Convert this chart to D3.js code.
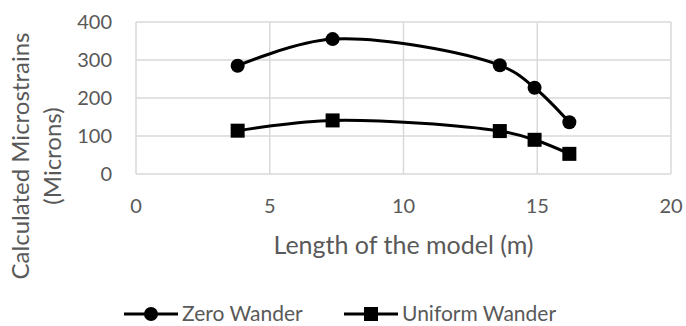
<!DOCTYPE html>
<html>
<head>
<meta charset="utf-8">
<script src="https://cdn.jsdelivr.net/npm/d3@7"></script>
<style>
	body { margin: 0; background: #fff; }
	text { font-family: Lato, "Open Sans", sans-serif; fill: #595959; }
</style>
</head>
<body>
<svg id="chart" width="686" height="326"></svg>
<script>
var lengths = [3.8, 7.35, 13.6, 14.9, 16.2];
var zeroWander = [285, 355, 286, 227, 136];
var uniformWander = [114, 141, 113, 90, 53];
var xTicks = [0, 5, 10, 15, 20];
var yTicks = [0, 100, 200, 300, 400];
var seriesNames = ["Zero Wander", "Uniform Wander"];

var svg = d3.select("#chart"),
	margin = { top: 22, left: 136, right: 15, bottom: 152 },
	width = +svg.attr("width"),
	height = +svg.attr("height");

var x = d3.scaleLinear().domain([0, 20]).range([margin.left, width - margin.right]);
var y = d3.scaleLinear().domain([0, 400]).range([height - margin.bottom, margin.top]);

// grid
var grid = svg.append("g");
grid.selectAll("line.h").data(yTicks).enter().append("line")
	.attr("x1", x(0)).attr("x2", x(20))
	.attr("y1", function(d) { return y(d); }).attr("y2", function(d) { return y(d); })
	.attr("stroke", "#d9d9d9").attr("stroke-width", 1.5);
grid.selectAll("line.v").data(xTicks).enter().append("line")
	.attr("y1", y(0)).attr("y2", y(400))
	.attr("x1", function(d) { return x(d); }).attr("x2", function(d) { return x(d); })
	.attr("stroke", "#d9d9d9").attr("stroke-width", 1.5);

// tick labels
svg.selectAll("text.yt").data(yTicks).enter().append("text")
	.attr("x", x(0) - 24).attr("y", function(d) { return y(d); })
	.attr("dy", "0.35em").attr("text-anchor", "end")
	.style("font-size", "20px").text(function(d) { return d; });
svg.selectAll("text.xt").data(xTicks).enter().append("text")
	.attr("x", function(d) { return x(d); }).attr("y", y(0) + 32)
	.attr("dy", "0.35em").attr("text-anchor", "middle")
	.style("font-size", "20px").text(function(d) { return d; });

// axis titles
svg.append("text")
	.attr("x", (x(0) + x(20)) / 2).attr("y", 245).attr("dy", "0.35em")
	.attr("text-anchor", "middle").style("font-size", "25px")
	.text("Length of the model (m)");
var yt = svg.append("text")
	.attr("transform", "translate(21,156) rotate(-90)")
	.attr("text-anchor", "middle").style("font-size", "24px");
yt.append("tspan").attr("x", 0).attr("dy", "0.35em").text("Calculated Microstrains");
yt.append("tspan").attr("x", 0).attr("dy", "32px").text("(Microns)");

// lines
var line = d3.line()
	.x(function(d) { return x(d[0]); })
	.y(function(d) { return y(d[1]); })
	.curve(d3.curveCatmullRom.alpha(0.5));

var allSeries = [zeroWander, uniformWander];
allSeries.forEach(function(vals, i) {
	var pts = lengths.map(function(l, j) { return [l, vals[j]]; });
	svg.append("path").attr("d", line(pts))
		.attr("fill", "none").attr("stroke", "#000").attr("stroke-width", 3);
	var g = svg.append("g");
	if (i == 0) {
		g.selectAll("circle").data(pts).enter().append("circle")
			.attr("cx", function(d) { return x(d[0]); })
			.attr("cy", function(d) { return y(d[1]); })
			.attr("r", 7).attr("fill", "#000");
	} else {
		g.selectAll("rect").data(pts).enter().append("rect")
			.attr("x", function(d) { return x(d[0]) - 7; })
			.attr("y", function(d) { return y(d[1]) - 7; })
			.attr("width", 14).attr("height", 14).attr("fill", "#000");
	}
});

// legend
var legendX = [124, 344];
seriesNames.forEach(function(name, i) {
	var lg = svg.append("g").attr("transform", "translate(" + legendX[i] + ",314)");
	lg.append("line").attr("x1", 0).attr("x2", 54).attr("y1", 0).attr("y2", 0)
		.attr("stroke", "#000").attr("stroke-width", 3);
	if (i == 0) {
		lg.append("circle").attr("cx", 27).attr("cy", 0).attr("r", 7).attr("fill", "#000");
	} else {
		lg.append("rect").attr("x", 20).attr("y", -7).attr("width", 14).attr("height", 14).attr("fill", "#000");
	}
	lg.append("text").attr("x", 58).attr("y", 0).attr("dy", "0.33em")
		.style("font-size", "21px").text(name);
});
</script>
</body>
</html>
